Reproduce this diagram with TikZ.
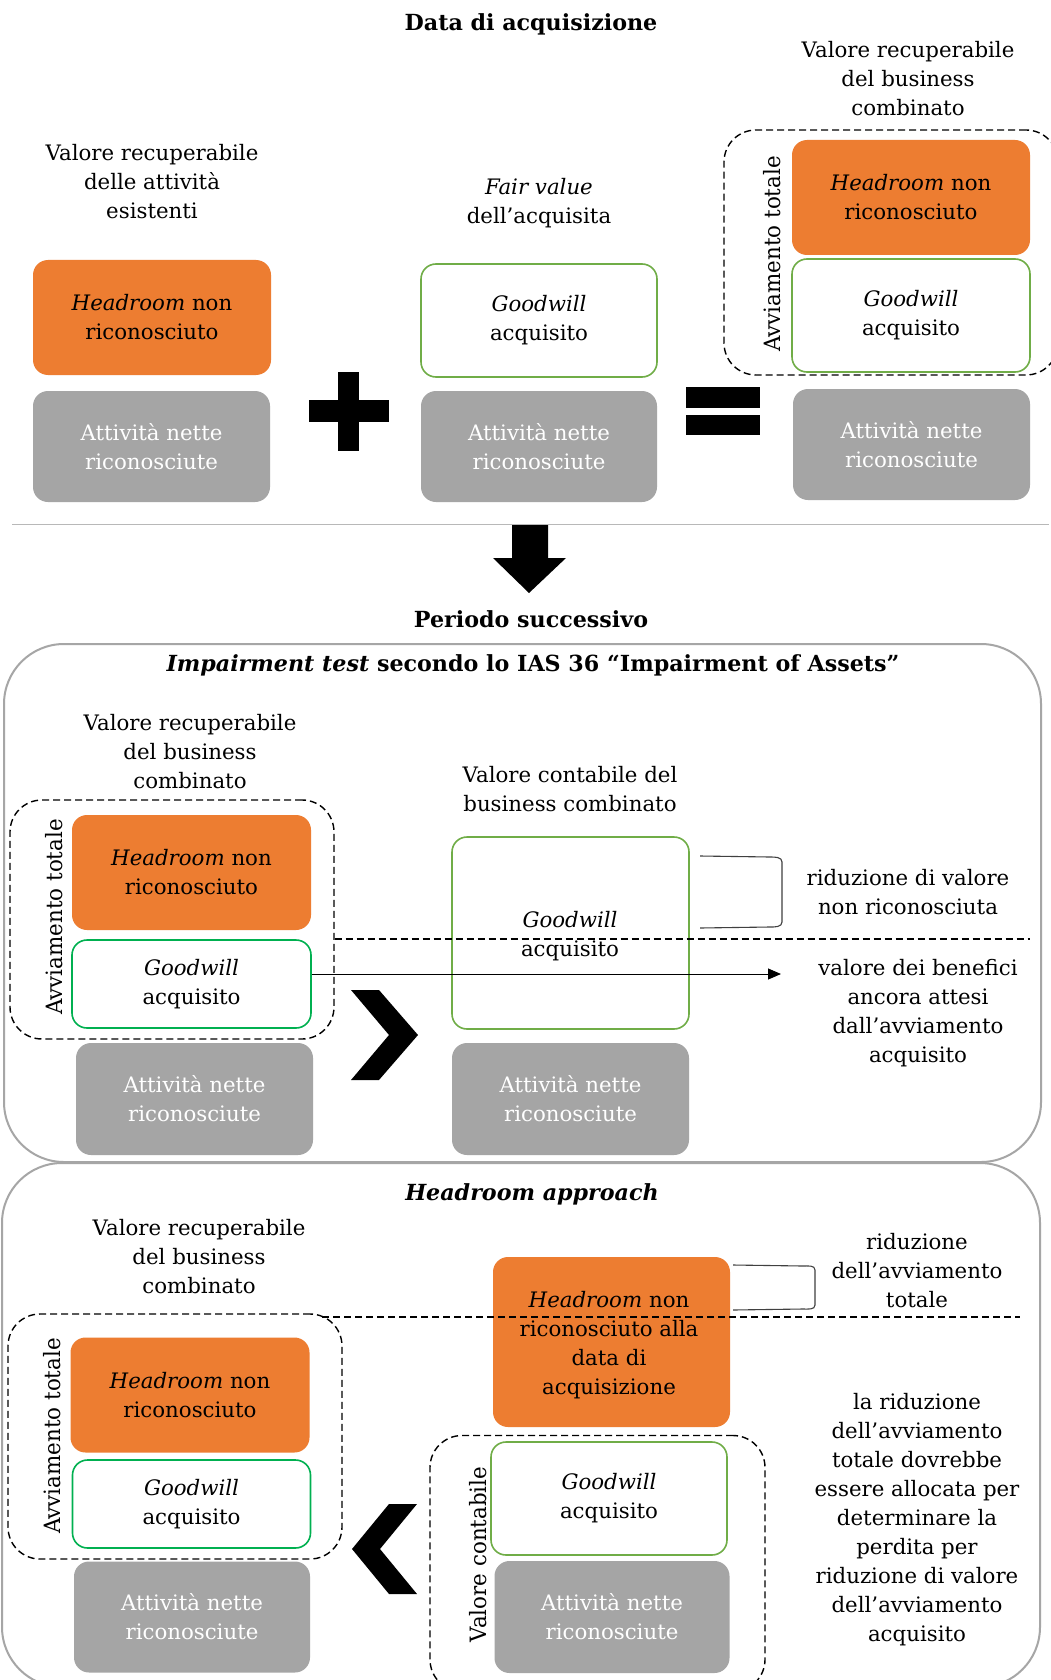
\documentclass[tikz,border=0pt]{standalone}
\usepackage{fontspec}
\usepackage{graphicx}
\setmainfont{DejaVu Serif}
\usetikzlibrary{arrows.meta}
\definecolor{orng}{HTML}{ED7D31}
\definecolor{grayb}{HTML}{A5A5A5}
\definecolor{grn}{HTML}{70AD47}
\definecolor{brgrn}{HTML}{00B050}
\definecolor{frame}{HTML}{A6A6A6}
\definecolor{brk}{HTML}{404040}
\newcommand{\vtxt}[1]{\scalebox{0.95}[1.0]{#1}}
\begin{document}
\begin{tikzpicture}[x=1pt,y=-1pt,
  every node/.style={font=\fontsize{21.3}{29}\selectfont, inner sep=0pt, align=center},
  orbox/.style={fill=orng, rounded corners=15pt},
  grbox/.style={draw=grn, line width=1.6pt, rounded corners=15pt},
  bgrbox/.style={draw=brgrn, line width=1.6pt, rounded corners=15pt},
  gybox/.style={fill=grayb, rounded corners=15pt, text=white},
  dbox/.style={draw=black, dash pattern=on 7pt off 4pt, line width=1.4pt, rounded corners=32pt},
  frm/.style={draw=frame, line width=2pt, rounded corners=60pt},
  dline/.style={draw=black, dash pattern=on 7pt off 4pt, line width=1.4pt},
  brack/.style={draw=brk, line width=1.1pt},
  vlbl/.style={rotate=90, font=\fontsize{22.5}{29}\selectfont},
  hdr/.style={font=\fontsize{22.2}{29}\selectfont\bfseries}
]
\useasboundingbox (0,0) rectangle (1051,1680);
\fill[white] (0,0) rectangle (1051,1680);

% ---------------- Section 1 ----------------
\node[hdr] (t1) at (531,24) {Data di acquisizione};
\node (l1) at (152,182) {Valore recuperabile\\delle attività\\esistenti};
\node (l2) at (539,203) {\textit{Fair value}\\dell’acquisita};
\node (l3) at (908,79) {Valore recuperabile\\del business\\combinato};

\node[dbox, minimum width=334pt, minimum height=245pt] (d1) at (891,252.5) {};

\node[orbox, minimum width=238pt, minimum height=115pt] (o1) at (152,317.5) {\textit{Headroom} non\\riconosciuto};
\node[gybox, minimum width=237pt, minimum height=111pt] (g1a) at (151.5,446.5) {Attività nette\\riconosciute};
\node[grbox, minimum width=236pt, minimum height=113pt] (gr1) at (539,320.5) {\textit{Goodwill}\\acquisito};
\node[gybox, minimum width=236pt, minimum height=111pt] (g1b) at (539,446.5) {Attività nette\\riconosciute};
\node[orbox, minimum width=238pt, minimum height=115pt] (o1c) at (911,197.5) {\textit{Headroom} non\\riconosciuto};
\node[grbox, minimum width=238pt, minimum height=113pt] (gr1c) at (911,315.5) {\textit{Goodwill}\\acquisito};
\node[gybox, minimum width=237pt, minimum height=111pt] (g1c) at (911.5,444.5) {Attività nette\\riconosciute};
\node[vlbl] (v1) at (772,254) {\vtxt{Avviamento totale}};

% plus
\fill (338,372) rectangle (359,451);
\fill (309,400) rectangle (389,422);
% equals
\fill (686,387) rectangle (760,408);
\fill (686,415) rectangle (760,435);

% separator
\draw[frame!80, line width=1.2pt] (12,524.5) -- (1049,524.5);
% down arrow
\fill (512,525) -- (548,525) -- (548,558) -- (566,558) -- (529,593) -- (493,558) -- (512,558) -- cycle;

\node[hdr] (t2) at (531,619) {Periodo successivo};

% ---------------- Section 2 ----------------
\node[frm, minimum width=1037pt, minimum height=518pt] (f2) at (522.5,903) {};
\node[hdr] (t3) at (533,665) {\textit{Impairment test} secondo lo IAS 36 “Impairment of Assets”};
\node (l4) at (190,752) {Valore recuperabile\\del business\\combinato};
\node[dbox, minimum width=324pt, minimum height=239pt] (d2) at (172,919.5) {};
\node[orbox, minimum width=239pt, minimum height=115pt] (o2) at (191.5,872.5) {\textit{Headroom} non\\riconosciuto};
\node[bgrbox, minimum width=239pt, minimum height=88pt] (gr2) at (191.5,984) {\textit{Goodwill}\\acquisito};
\node[gybox, minimum width=237pt, minimum height=112pt] (g2a) at (194.5,1099) {Attività nette\\riconosciute};
\node[vlbl] (v2) at (54,917) {\vtxt{Avviamento totale}};

\fill (351,990) -- (379,990) -- (418,1035) -- (379,1080) -- (351,1080) -- (389,1035) -- cycle;

\node (l5) at (570,789.5) {Valore contabile del\\business combinato};
\node[grbox, minimum width=237pt, minimum height=192pt] (gr2b) at (570.5,933) {};
\node (gw2b) at (570,936) {\textit{Goodwill}\\acquisito};
\node[gybox, minimum width=237pt, minimum height=112pt] (g2b) at (570.5,1099) {Attività nette\\riconosciute};

\draw[brack] (700,856) -- (770,857) to[out=0,in=90] (782,862) -- (782,922) to[out=-90,in=0] (770,927) -- (700,928);
\node (l6) at (908,892) {riduzione di valore\\non riconosciuta};
\coordinate (dl2) at (1030,939);
\draw[dline] (d2.east |- dl2) -- (dl2);
\coordinate (ar2) at (781,974);
\draw[line width=1pt, -{Triangle[length=13pt,width=11pt]}] (gr2.east |- ar2) -- (ar2);
\node (l7) at (918,1013) {valore dei benefici\\ancora attesi\\dall’avviamento\\acquisito};

% ---------------- Section 3 ----------------
\node[frm, minimum width=1038pt, minimum height=524pt] (f3) at (521,1425) {};
\node[hdr] (t4) at (532,1194) {\textit{Headroom approach}};
\node (l8) at (199,1257) {Valore recuperabile\\del business\\combinato};
\node[dbox, minimum width=334pt, minimum height=245pt] (d3) at (175,1436.5) {};
\node[orbox, minimum width=239pt, minimum height=115pt] (o3) at (190,1395) {\textit{Headroom} non\\riconosciuto};
\node[bgrbox, minimum width=238pt, minimum height=88pt] (gr3) at (191.5,1504) {\textit{Goodwill}\\acquisito};
\node[gybox, minimum width=236pt, minimum height=111pt] (g3a) at (192,1617) {Attività nette\\riconosciute};
\node[vlbl] (v3) at (52,1436) {\vtxt{Avviamento totale}};

\fill (417,1504) -- (389,1504) -- (352,1549) -- (389,1594) -- (417,1594) -- (380,1549) -- cycle;

\node[orbox, minimum width=237pt, minimum height=170pt] (o3b) at (611.5,1342) {};
\node (h3b) at (609,1345) {\textit{Headroom} non\\riconosciuto alla\\data di\\acquisizione};
\node[dbox, minimum width=335pt, minimum height=256pt] (d4) at (597.5,1563.5) {};
\node[grbox, minimum width=236pt, minimum height=113pt] (gr3b) at (609,1498.5) {\textit{Goodwill}\\acquisito};
\node[gybox, minimum width=235pt, minimum height=112pt] (g3b) at (612,1617) {Attività nette\\riconosciute};
\node[vlbl] (v4) at (478,1554.5) {\vtxt{Valore contabile}};

\draw[brack] (733,1265) -- (803,1266) to[out=0,in=90] (815,1270) -- (815,1305) to[out=-90,in=0] (803,1309) -- (733,1310);
\node (l9) at (917,1271) {riduzione\\dell’avviamento\\totale};
\coordinate (dl3s) at (322,1317);
\coordinate (dl3) at (1020,1317);
\draw[dline] (dl3s) -- (dl3);
\node (l10) at (917,1520) {la riduzione\\dell’avviamento\\totale dovrebbe\\essere allocata per\\determinare la\\perdita per\\riduzione di valore\\dell’avviamento\\acquisito};
\end{tikzpicture}
\end{document}
